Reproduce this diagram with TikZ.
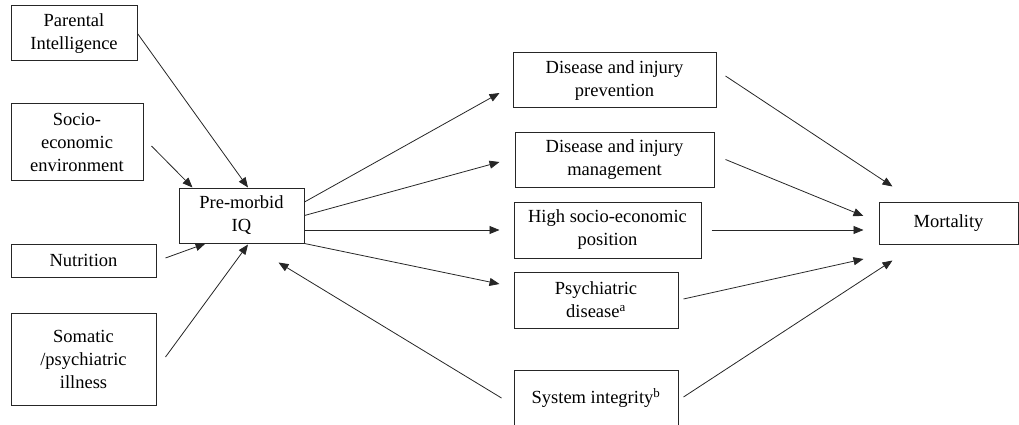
\documentclass[tikz,border=0pt]{standalone}
\usepackage{fontspec}
\setmainfont{Liberation Serif}
\usetikzlibrary{arrows.meta}
\tikzset{
  box/.style={draw=black!85, line width=1pt, align=center, inner sep=0pt,
    font=\fontsize{18.5}{23}\selectfont},
  arr/.style={draw=black!85, line width=0.8pt, -{Triangle[length=10pt,width=8pt]}}
}
\begin{document}
\begin{tikzpicture}[x=1pt,y=-1pt]
\useasboundingbox (0,0) rectangle (1019,425);
\clip (0,0) rectangle (1019,425);
% left column
\node[box, minimum width=126, minimum height=55] (par) at (74,33.5) {Parental\\Intelligence};
\node[box, minimum width=132, minimum height=76] (soc) at (77,142) {Socio-\\economic\\environment};
\node[box, minimum width=145, minimum height=33] (nut) at (83.5,260.5) {Nutrition};
\node[box, minimum width=145, minimum height=92] (som) at (83.5,359) {Somatic\\/psychiatric\\illness};
\node[box, minimum width=125, minimum height=55] (pm) at (241.5,215.5) {Pre-morbid\\IQ};
% middle column
\node[box, minimum width=203, minimum height=55] (prev) at (614.5,80.5) {Disease and injury\\prevention};
\node[box, minimum width=199, minimum height=55] (man) at (614.5,159.5) {Disease and injury\\management};
\node[box, minimum width=187, minimum height=56] (high) at (607.5,230) {High socio-economic\\position};
\node[box, minimum width=164, minimum height=56] (psy) at (596,300) {Psychiatric\\disease\textsuperscript{a}};
\node[box, minimum width=164, minimum height=56] (sys) at (596,398) {System integrity\textsuperscript{b}};
% right
\node[box, minimum width=139, minimum height=42] (mor) at (948.5,223) {Mortality};
% connectors into pre-morbid IQ
\draw[arr] (par.east) -- ([xshift=6.5pt]pm.north);
\draw[arr] ([shift={(8pt,-4pt)}]soc.east) -- ([xshift=14pt]pm.north west);
\draw[arr] ([shift={(9pt,2.5pt)}]nut.east) -- ([xshift=27pt]pm.south west);
\draw[arr] ([shift={(9pt,2pt)}]som.east) -- ([shift={(6.5pt,-1pt)}]pm.south);
\draw[arr] ([xshift=-12pt]sys.west) -- ([shift={(-26pt,-19pt)}]pm.south east);
% connectors out of pre-morbid IQ
\draw[arr] ([yshift=13.5pt]pm.east) -- ([shift={(-13pt,-12.5pt)}]prev.west);
\draw[arr] (pm.east) -- ([shift={(-15pt,-2.5pt)}]man.west);
\draw[arr] ([yshift=-14.5pt]pm.east) -- ([xshift=-14pt]high.west);
\draw[arr] (pm.south east) -- ([shift={(-14pt,16pt)}]psy.west);
% connectors into mortality
\draw[arr] ([shift={(9pt,4.5pt)}]prev.east) -- ([shift={(14pt,15pt)}]mor.north west);
\draw[arr] ([xshift=11pt]man.east) -- ([shift={(-15pt,7pt)}]mor.west);
\draw[arr] ([xshift=10pt]high.east) -- ([shift={(-15pt,-7pt)}]mor.west);
\draw[arr] ([shift={(5pt,1pt)}]psy.east) -- ([shift={(-15pt,-36pt)}]mor.west);
\draw[arr] ([shift={(5pt,1pt)}]sys.east) -- ([shift={(14pt,-16pt)}]mor.south west);
\end{tikzpicture}
\end{document}
